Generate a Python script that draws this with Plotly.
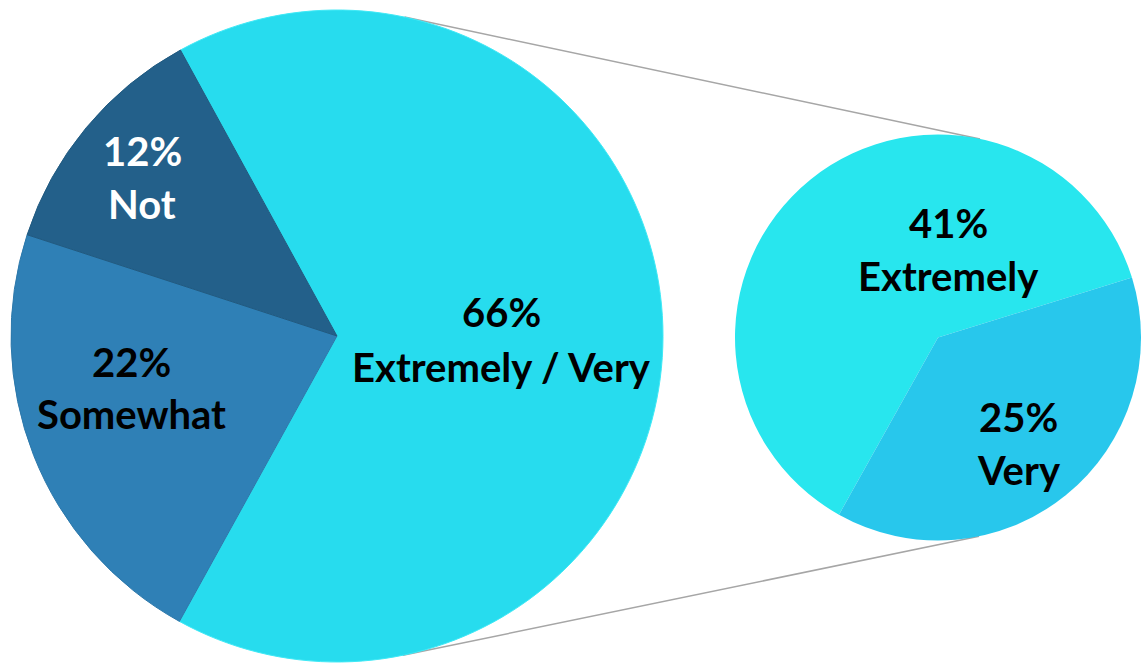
import math
import plotly.graph_objects as go

# ---- data ----
main_labels = ["Extremely / Very", "Somewhat", "Not"]
main_values = [66, 22, 12]
main_colors = ["#27dcee", "#2f80b6", "#23608a"]

sub_labels = ["Extremely", "Very"]
sub_values = [41, 25]
sub_colors = ["#28e6ee", "#28c7ec"]

W, H = 1141, 663

# geometry in pixels (center x, center y, radius)
big = (337.0, 336.0, 326.0)
small = (938.0, 337.5, 203.0)


def dom(c):
    cx, cy, r = c
    return dict(x=[(cx - r) / W, min(1.0, (cx + r) / W)],
                y=[max(0.0, 1 - (cy + r) / H), 1 - (cy - r) / H])


fig = go.Figure()
fig.add_trace(go.Pie(
    labels=main_labels, values=main_values, sort=False, direction="clockwise",
    rotation=-28.7, textinfo="none", hoverinfo="label+percent",
    marker=dict(colors=main_colors, line=dict(color=["#3fe9f6", "#2c78ab", "#215a80"], width=1)),
    domain=dom(big), showlegend=False,
))
fig.add_trace(go.Pie(
    labels=sub_labels, values=sub_values, sort=False, direction="clockwise",
    rotation=-150.8, textinfo="none", hoverinfo="label+value",
    marker=dict(colors=sub_colors, line=dict(width=0)),
    domain=dom(small), showlegend=False,
))

# connector lines: external tangents between the two circles
(x1, y1, r1), (x2, y2, r2) = big, small
dx, dy = x2 - x1, y2 - y1
d = math.hypot(dx, dy)
base = math.atan2(dy, dx)
phi = math.acos((r1 - r2) / d)
for sgn in (1, -1):
    a = base + sgn * phi
    px1, py1 = x1 + r1 * math.cos(a), y1 + r1 * math.sin(a)
    px2, py2 = x2 + r2 * math.cos(a), y2 + r2 * math.sin(a)
    fig.add_shape(type="line", xref="paper", yref="paper",
                  x0=px1 / W, y0=1 - py1 / H, x1=px2 / W, y1=1 - py2 / H,
                  line=dict(color="#a6a6a6", width=1.5), layer="below")

FONT = "Lato"
FS = 40


def label(x, y, text, color="#000000"):
    fig.add_annotation(x=x / W, y=1 - y / H, xref="paper", yref="paper",
                       text=f"<b>{text}</b>", showarrow=False,
                       xanchor="center", yanchor="middle",
                       font=dict(family=FONT, size=FS, color=color))


main_pos = [((501, 312), (502, 367)), ((131, 362), (131, 414)), ((142, 151), (142, 204))]
main_text_colors = ["#000000", "#000000", "#ffffff"]
for lab, val, (p1, p2), col in zip(main_labels, main_values, main_pos, main_text_colors):
    label(*p1, f"{val}%", col)
    label(*p2, lab, col)

sub_pos = [((948, 223), (948, 276)), ((1018, 417), (1019, 470))]
for lab, val, (p1, p2) in zip(sub_labels, sub_values, sub_pos):
    label(*p1, f"{val}%")
    label(*p2, lab)

fig.update_layout(width=W, height=H, margin=dict(l=0, r=0, t=0, b=0),
                  paper_bgcolor="white", plot_bgcolor="white")

fig.write_html("out.html", config={"displayModeBar": False},
               post_script="document.body.style.margin='0';document.body.style.overflow='hidden';")
